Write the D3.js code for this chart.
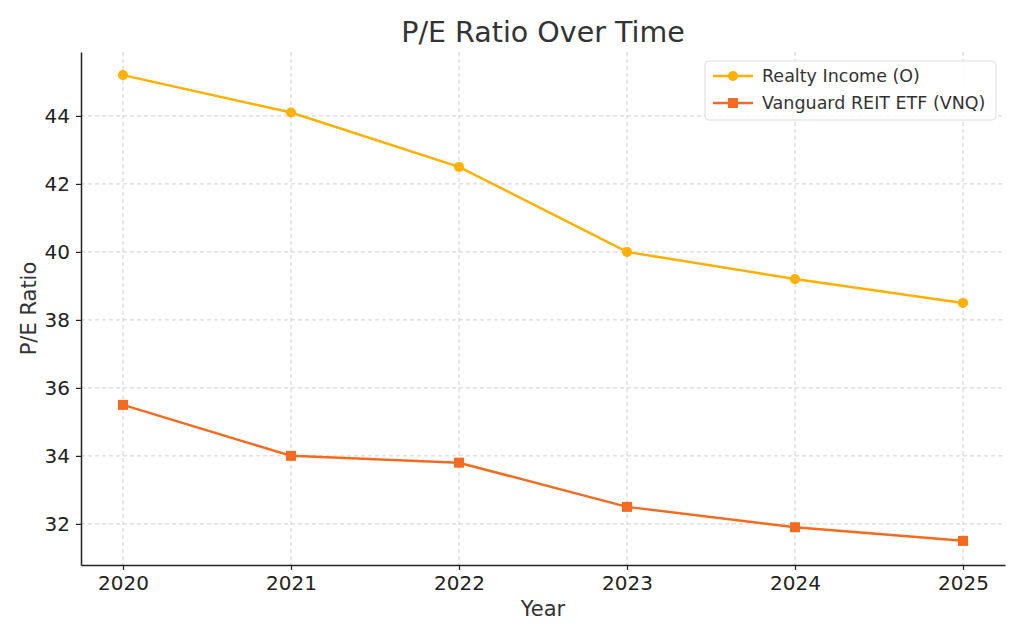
<html>
<head>
<script src="https://d3js.org/d3.v7.min.js"></script>
<style>
  body { margin: 0; background: #fff; }
  text { font-family: "DejaVu Sans", sans-serif; fill: #333; }
</style>
</head>
<body>
<svg id="chart" width="1024" height="640"></svg>
<script>
const years = [2020, 2021, 2022, 2023, 2024, 2025];
const realtyIncome = [45.2, 44.1, 42.5, 40.0, 39.2, 38.5];
const vanguardReit = [35.5, 34.0, 33.8, 32.5, 31.9, 31.5];
const yTicks = [32, 34, 36, 38, 40, 42, 44];
const seriesNames = ["Realty Income (O)", "Vanguard REIT ETF (VNQ)"];

const svg = d3.select("svg#chart");
const margin = { top: 52, right: 19, bottom: 75, left: 81 };
const width = 1024 - margin.left - margin.right;
const height = 640 - margin.top - margin.bottom;
const g = svg.append("g").attr("transform", "translate(" + margin.left + "," + margin.top + ")");

const x = d3.scaleLinear().domain([2019.75, 2025.25]).range([0, width]);
const y = d3.scaleLinear().domain([30.79, 45.88]).range([height, 0]);

// grid
g.selectAll("line.gx").data(years).join("line")
  .attr("x1", d => x(d)).attr("x2", d => x(d))
  .attr("y1", 0).attr("y2", height)
  .style("stroke", "#c8c8c8").style("stroke-dasharray", "4,3").style("stroke-width", 0.9);
g.selectAll("line.gy").data(yTicks).join("line")
  .attr("x1", 0).attr("x2", width)
  .attr("y1", d => y(d)).attr("y2", d => y(d))
  .style("stroke", "#c8c8c8").style("stroke-dasharray", "4,3").style("stroke-width", 0.9);

// axes
const xAxis = g.append("g").attr("transform", "translate(0," + height + ")")
  .call(d3.axisBottom(x).tickValues(years).tickFormat(d3.format("d")).tickSize(5).tickSizeOuter(0).tickPadding(6));
const yAxis = g.append("g")
  .call(d3.axisLeft(y).tickValues(yTicks).tickSize(5).tickSizeOuter(0).tickPadding(6));
[xAxis, yAxis].forEach(a => {
  a.select(".domain").style("stroke", "#222").style("stroke-width", 1.5);
  a.selectAll(".tick line").style("stroke", "#222").style("stroke-width", 1.2);
  a.selectAll(".tick text").style("font-size", "20px").style("fill", "#222");
});

const series = [
  { name: seriesNames[0], values: realtyIncome, color: "#ffb000", marker: "circle" },
  { name: seriesNames[1], values: vanguardReit, color: "#f26b21", marker: "square" }
];
const line = d3.line().x((d, i) => x(years[i])).y(d => y(d));

series.forEach(s => {
  g.append("path").datum(s.values)
    .attr("d", line)
    .style("fill", "none").style("stroke", s.color).style("stroke-width", 2.5);
  if (s.marker === "circle") {
    g.selectAll(null).data(s.values).join("circle")
      .attr("cx", (d, i) => x(years[i])).attr("cy", d => y(d)).attr("r", 5)
      .style("fill", s.color);
  } else {
    g.selectAll(null).data(s.values).join("rect")
      .attr("x", (d, i) => x(years[i]) - 5).attr("y", d => y(d) - 5)
      .attr("width", 10).attr("height", 10)
      .style("fill", s.color);
  }
});

// title and labels
svg.append("text").attr("x", margin.left + width / 2).attr("y", 42)
  .attr("text-anchor", "middle").style("font-size", "28.5px").text("P/E Ratio Over Time");
svg.append("text").attr("x", margin.left + width / 2).attr("y", 616)
  .attr("text-anchor", "middle").style("font-size", "21px").text("Year");
svg.append("text").attr("transform", "translate(36," + (margin.top + height / 2) + ") rotate(-90)")
  .attr("text-anchor", "middle").style("font-size", "21px").text("P/E Ratio");

// legend
const legend = svg.append("g").attr("transform", "translate(705,61)");
legend.append("rect").attr("width", 291).attr("height", 59).attr("rx", 4)
  .style("fill", "white").style("fill-opacity", 0.85).style("stroke", "#ddd");
series.forEach((s, i) => {
  const row = legend.append("g").attr("transform", "translate(0," + (15 + i * 27) + ")");
  row.append("line").attr("x1", 8).attr("x2", 48).attr("y1", 0).attr("y2", 0)
    .style("stroke", s.color).style("stroke-width", 2.5);
  if (s.marker === "circle") {
    row.append("circle").attr("cx", 28).attr("cy", 0).attr("r", 5).style("fill", s.color);
  } else {
    row.append("rect").attr("x", 23).attr("y", -5).attr("width", 10).attr("height", 10).style("fill", s.color);
  }
  row.append("text").attr("x", 57).attr("y", 6).style("font-size", "17.5px").text(s.name);
});
</script>
</body>
</html>
